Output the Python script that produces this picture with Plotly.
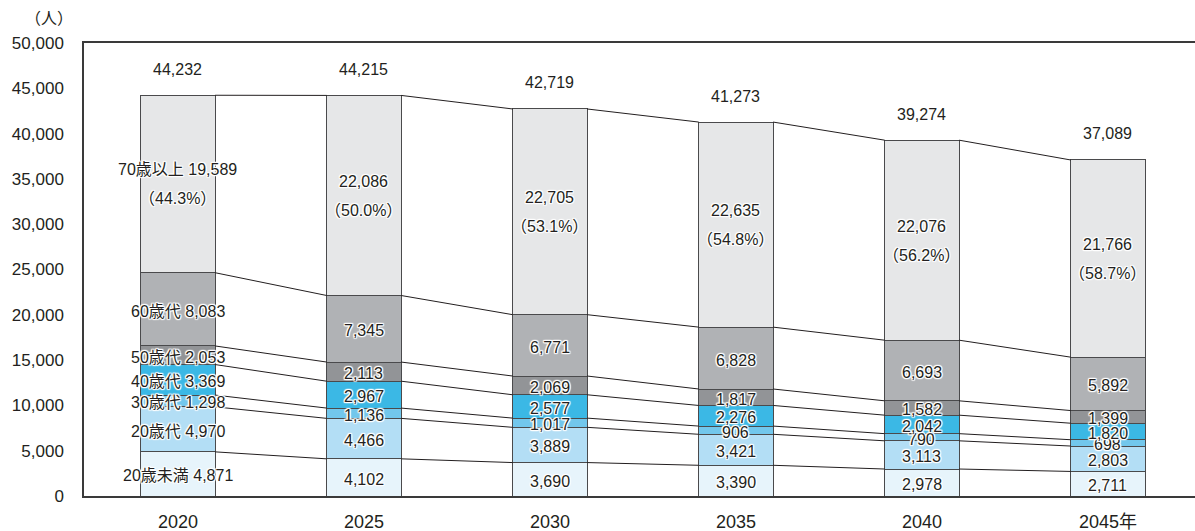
import plotly.graph_objects as go

years = ["2020", "2025", "2030", "2035", "2040", "2045年"]
groups = ["20歳未満", "20歳代", "30歳代", "40歳代", "50歳代", "60歳代", "70歳以上"]
under20 = [4871, 4102, 3690, 3390, 2978, 2711]
age20s = [4970, 4466, 3889, 3421, 3113, 2803]
age30s = [1298, 1136, 1017, 906, 790, 698]
age40s = [3369, 2967, 2577, 2276, 2042, 1820]
age50s = [2053, 2113, 2069, 1817, 1582, 1399]
age60s = [8083, 7345, 6771, 6828, 6693, 5892]
age70plus = [19589, 22086, 22705, 22635, 22076, 21766]
totals = [44232, 44215, 42719, 41273, 39274, 37089]
share70 = ["44.3", "50.0", "53.1", "54.8", "56.2", "58.7"]

series = [under20, age20s, age30s, age40s, age50s, age60s, age70plus]
colors = ["#e7f4fb", "#b3def5", "#72c7ec", "#3bb8e5", "#929497", "#b0b2b5", "#e6e7e8"]

FONT = "Liberation Sans, Arial, Noto Sans CJK JP, sans-serif"
INK = "#231f20"
HALO = ("1px 1px 1px #fff, -1px -1px 1px #fff, 1px -1px 1px #fff, "
        "-1px 1px 1px #fff, 0px 1px 1px #fff, 0px -1px 1px #fff, "
        "1px 0px 1px #fff, -1px 0px 1px #fff")
BAR_W = 0.4
xs = list(range(len(years)))

fig = go.Figure()
for name, vals, col in zip(groups, series, colors):
    fig.add_trace(go.Bar(
        x=xs, y=vals, name=name, width=BAR_W,
        marker=dict(color=col, line=dict(color="#4a4a4c", width=1)),
        hoverinfo="skip",
    ))

# cumulative tops of each segment
cum = []
run = [0] * len(years)
for vals in series:
    run = [a + b for a, b in zip(run, vals)]
    cum.append(run[:])

# connector lines between neighbouring bars
for level in cum:
    lx, ly = [], []
    for i in range(len(years) - 1):
        lx += [i + BAR_W / 2, i + 1 - BAR_W / 2, None]
        ly += [level[i], level[i + 1], None]
    fig.add_trace(go.Scatter(x=lx, y=ly, mode="lines",
                             line=dict(color=INK, width=1),
                             hoverinfo="skip", showlegend=False))

annotations = []
lab_font = dict(family=FONT, size=16, color=INK, shadow=HALO)
base = [0] * len(years)
for gi, vals in enumerate(series):
    for i, v in enumerate(vals):
        mid = base[i] + v / 2
        if gi == len(series) - 1:
            top_txt = f"{groups[gi]} {v:,}" if i == 0 else f"{v:,}"
            annotations.append(dict(x=i, y=mid, text=top_txt, showarrow=False,
                                    yshift=14, font=lab_font))
            annotations.append(dict(x=i, y=mid, text=f"（{share70[i]}%）",
                                    showarrow=False, yshift=-15, font=lab_font))
        else:
            txt = f"{groups[gi]} {v:,}" if i == 0 else f"{v:,}"
            annotations.append(dict(x=i, y=mid, text=txt, showarrow=False,
                                    yshift=-2, font=lab_font))
    base = [a + b for a, b in zip(base, vals)]

for i, t in enumerate(totals):
    annotations.append(dict(x=i, y=t, text=f"{t:,}", showarrow=False,
                            yshift=26, font=dict(family=FONT, size=16, color=INK)))

annotations.append(dict(xref="paper", yref="paper", x=-0.0315, y=1.0, yshift=25,
                        text="（人）", showarrow=False, xanchor="center",
                        yanchor="middle",
                        font=dict(family=FONT, size=16, color=INK)))

fig.update_layout(
    barmode="stack",
    width=1195, height=531,
    margin=dict(l=84, r=0, t=43, b=35),
    paper_bgcolor="white", plot_bgcolor="white",
    showlegend=False,
    annotations=annotations,
    xaxis=dict(range=[-0.505, -0.505 + 1111 / 186], tickmode="array",
               tickvals=xs, ticktext=years, showgrid=False, zeroline=False,
               showline=True, linecolor="#3a3a3a", linewidth=1.5, mirror=True,
               ticks="", ticklabelstandoff=9, automargin=False,
               tickfont=dict(family=FONT, size=18, color=INK)),
    yaxis=dict(range=[0, 50000], tickmode="linear", tick0=0, dtick=5000,
               tickformat=",d", showgrid=False, zeroline=False,
               showline=True, linecolor="#3a3a3a", linewidth=1.5,
               ticks="", ticklabelstandoff=15, automargin=False,
               tickfont=dict(family=FONT, size=17, color=INK)),
)

fig.write_html("out.html")
